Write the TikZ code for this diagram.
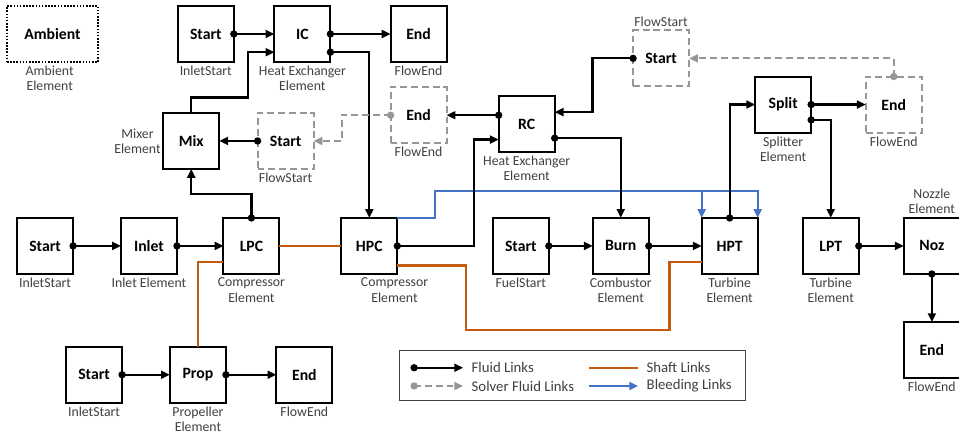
\documentclass[tikz,border=0pt]{standalone}
\usepackage{fontspec}
\setmainfont{Carlito}
\usepackage{tikz}
\usetikzlibrary{arrows, arrows.meta}
\usetikzlibrary{positioning}
\definecolor{shaftorange}{RGB}{197,90,17}
\definecolor{bleedblue}{RGB}{68,114,196}
\definecolor{solvergray}{RGB}{150,150,150}
\definecolor{labelgray}{RGB}{64,64,64}
\tikzset{
  block/.style={
    draw, line width=2pt, outer sep=0pt,
    minimum width=2cm, minimum height=2cm,
    font=\fontsize{16}{18}\selectfont\bfseries
  },
  solverblock/.style={
    block, draw=solvergray, dash pattern=on 7pt off 4pt
  },
  lbl/.style={
    align=center, inner sep=1pt, text=labelgray,
    font=\fontsize{14}{15.5}\selectfont
  },
  legendtext/.style={
    inner sep=0pt, anchor=west, text=labelgray,
    font=\fontsize{15}{18}\selectfont
  },
  linkdot/.style={circle, fill=black, inner sep=0pt, minimum size=7.5pt},
  solverdot/.style={circle, fill=solvergray, inner sep=0pt, minimum size=7.5pt},
  fluidlink/.style={
    line width=2.2pt,
    -{Triangle[length=9pt, width=8pt]}
  },
  solverlink/.style={
    fluidlink, solvergray, dash pattern=on 7pt off 4pt
  },
  shaftlink/.style={line width=2.4pt, shaftorange},
  bleedlink/.style={
    line width=2.2pt, bleedblue,
    -{Triangle[length=9pt, width=8pt]}
  }
}

\begin{document}
\begin{tikzpicture}

\useasboundingbox (-1.875,1.214) rectangle (32.375,-14.429);

% Ambient
\node [block,
    dash pattern=on 1.6pt off 1.6pt,
    minimum width=3.25cm
]  (ambient) {Ambient};

% Top row
\node [block,
    right=2.85cm of ambient
]  (topstart) {Start};

\node [block,
    right=1.45cm of topstart
]  (ic) {IC};

\node [block,
    right=2.15cm of ic
]  (topend) {End};

% Main row
\node [block,
    below right=5.57cm and 0.36cm of ambient.south west
]  (inletstart) {Start};

\node [block,
    right=1.71cm of inletstart
]  (inlet) {Inlet};

\node [block,
    right=1.66cm of inlet
]  (lpc) {LPC};

\node [block,
    right=2.21cm of lpc
]  (hpc) {HPC};

\node [block,
    right=3.41cm of hpc
]  (fuelstart) {Start};

\node [block,
    right=1.57cm of fuelstart
]  (burn) {Burn};

\node [block,
    right=1.89cm of burn
]  (hpt) {HPT};

\node [block,
    right=1.61cm of hpt
]  (lpt) {LPT};

\node [block,
    right=1.61cm of lpt
]  (noz) {Noz};

\node [block,
    below=1.72cm of noz
]  (nozend) {End};

% Mixer and heat exchangers
\node [block,
    above left=1.75cm and 0.15cm of lpc.north west
]  (mix) {Mix};

\node [solverblock,
    right=1.37cm of mix
]  (mixstart) {Start};

\node [solverblock,
    below=0.9cm of topend
]  (rcend) {End};

\node [block,
    below right=0.32cm and 1.86cm of rcend.north east
]  (rc) {RC};

\node [solverblock,
    above right=0.35cm and 2.8cm of rc.north east
]  (rcstart) {Start};

\node [block,
    above left=3.05cm and 0.7cm of lpt.north
]  (split) {Split};

\node [solverblock,
    right=1.95cm of split
]  (splitend) {End};

% Propeller row
\node [block,
    below right=2.6cm and -0.25cm of inlet.south east
]  (prop) {Prop};

\node [block,
    left=1.71cm of prop
]  (propstart) {Start};

\node [block,
    right=1.8cm of prop
]  (propend) {End};

% Labels
\node [lbl, below=0.1cm of ambient, xshift=-0.1cm] {Ambient\\Element};
\node [lbl, below=0.1cm of topstart] {InletStart};
\node [lbl, below=0.1cm of ic] {Heat Exchanger\\Element};
\node [lbl, below=0.1cm of topend] {FlowEnd};
\node [lbl, left=0.05cm of mix] {Mixer\\Element};
\node [lbl, below=0.1cm of mixstart] {FlowStart};
\node [lbl, below=0.1cm of rcend] {FlowEnd};
\node [lbl, below=0.1cm of rc] {Heat Exchanger\\Element};
\node [lbl, above=0.1cm of rcstart] {FlowStart};
\node [lbl, below=0.1cm of split] {Splitter\\Element};
\node [lbl, below=0.1cm of splitend] {FlowEnd};
\node [lbl, below=0.1cm of inletstart] {InletStart};
\node [lbl, below=0.1cm of inlet] {Inlet Element};
\node [lbl, below=0.1cm of lpc] {Compressor\\Element};
\node [lbl, below=0.1cm of hpc, xshift=0.9cm] {Compressor\\Element};
\node [lbl, below=0.1cm of fuelstart] {FuelStart};
\node [lbl, below=0.1cm of burn] {Combustor\\Element};
\node [lbl, below=0.1cm of hpt] {Turbine\\Element};
\node [lbl, below=0.1cm of lpt] {Turbine\\Element};
\node [lbl, above=0.1cm of noz] {Nozzle\\Element};
\node [lbl, below=0.1cm of nozend] {FlowEnd};
\node [lbl, below=0.1cm of propstart] {InletStart};
\node [lbl, below=0.1cm of prop] {Propeller\\Element};
\node [lbl, below=0.1cm of propend] {FlowEnd};

% Shaft links
\draw[shaftlink] (lpc.east) -- (hpc.west);
\draw[shaftlink] ([yshift=-0.57cm]lpc.west) -| (prop.north);
\draw[shaftlink] ([yshift=-0.7cm]hpc.east) -- ++(2.45cm,0)
    |- ([xshift=-1.15cm, yshift=-2cm]hpt.south west)
    |- ([yshift=-0.57cm]hpt.west);

% Bleeding links
\draw[bleedlink] (hpc.north east) -- ++(1.35cm,0)
    |- ([yshift=0.95cm]hpt.north east) -- (hpt.north east);
\draw[bleedlink] ([yshift=0.95cm]hpt.north west) -- (hpt.north west);

% Fluid links
\draw[fluidlink] (topstart.east) node[linkdot] {} -- (ic.west);
\draw[fluidlink] (ic.east) node[linkdot] {} -- (topend.west);
\draw[fluidlink] ([yshift=-0.65cm]ic.east) node[linkdot] {} -| (hpc.north);
\draw[fluidlink] (mix.north) -- ++(0,0.55cm)
    -| ([xshift=-0.95cm, yshift=-0.65cm]ic.west) -- ([yshift=-0.65cm]ic.west);
\draw[fluidlink] (mixstart.west) node[linkdot] {} -- (mix.east);
\draw[fluidlink] (lpc.north) node[linkdot] {} -- ++(0,0.85cm) -| (mix.south);
\draw[fluidlink] (rc.west |- rcend.east) node[linkdot] {} -- (rcend.east);
\draw[fluidlink] (hpc.east) node[linkdot] {} -- ++(2.75cm,0)
    |- ([yshift=-0.55cm]rc.west);
\draw[fluidlink] ([yshift=-0.5cm]rc.east) node[linkdot] {} -| (burn.north);
\draw[fluidlink] (rcstart.west) node[linkdot] {} -- ++(-1.45cm,0)
    |- ([yshift=0.43cm]rc.east);
\draw[fluidlink] (hpt.north) node[linkdot] {} |- (split.west);
\draw[fluidlink] (split.east) node[linkdot] {} -- (splitend.west);
\draw[fluidlink] ([yshift=-0.55cm]split.east) node[linkdot] {} -| (lpt.north);
\draw[fluidlink] (inletstart.east) node[linkdot] {} -- (inlet.west);
\draw[fluidlink] (inlet.east) node[linkdot] {} -- (lpc.west);
\draw[fluidlink] (fuelstart.east) node[linkdot] {} -- (burn.west);
\draw[fluidlink] (burn.east) node[linkdot] {} -- (hpt.west);
\draw[fluidlink] (lpt.east) node[linkdot] {} -- (noz.west);
\draw[fluidlink] (noz.south) node[linkdot] {} -- (nozend.north);
\draw[fluidlink] (propstart.east) node[linkdot] {} -- (prop.west);
\draw[fluidlink] (prop.east) node[linkdot] {} -- (propend.west);

% Solver fluid links
\draw[solverlink] (rcend.west) node[solverdot] {} -- ++(-1.75cm,0)
    |- (mixstart.east);
\draw[solverlink] (splitend.north) node[solverdot] {} |- (rcstart.east);

% Legend
\node [draw=labelgray,
    line width=1.4pt,
    minimum width=12.35cm,
    minimum height=1.8cm,
    below right=2.7cm and 2.05cm of hpc.south west
]  (legend) {};

\coordinate (fluidA) at ([shift={(0.55cm,-0.65cm)}]legend.north west);
\coordinate (fluidB) at ([shift={(2.3cm,-0.65cm)}]legend.north west);
\coordinate (solverA) at ([shift={(0.55cm,-1.3cm)}]legend.north west);
\coordinate (solverB) at ([shift={(2.3cm,-1.3cm)}]legend.north west);
\coordinate (shaftA) at ([shift={(6.8cm,-0.65cm)}]legend.north west);
\coordinate (shaftB) at ([shift={(8.55cm,-0.65cm)}]legend.north west);
\coordinate (bleedA) at ([shift={(6.8cm,-1.3cm)}]legend.north west);
\coordinate (bleedB) at ([shift={(8.55cm,-1.3cm)}]legend.north west);

\draw[fluidlink] (fluidA) node[linkdot] {} -- (fluidB);
\draw[solverlink] (solverA) node[solverdot] {} -- (solverB);
\draw[shaftlink] (shaftA) -- (shaftB);
\draw[bleedlink] (bleedA) -- (bleedB);

\node [legendtext, right=0.3cm of fluidB] {Fluid Links};
\node [legendtext, right=0.3cm of solverB] {Solver Fluid Links};
\node [legendtext, right=0.3cm of shaftB] {Shaft Links};
\node [legendtext, right=0.3cm of bleedB] {Bleeding Links};

\end{tikzpicture}
\end{document}
